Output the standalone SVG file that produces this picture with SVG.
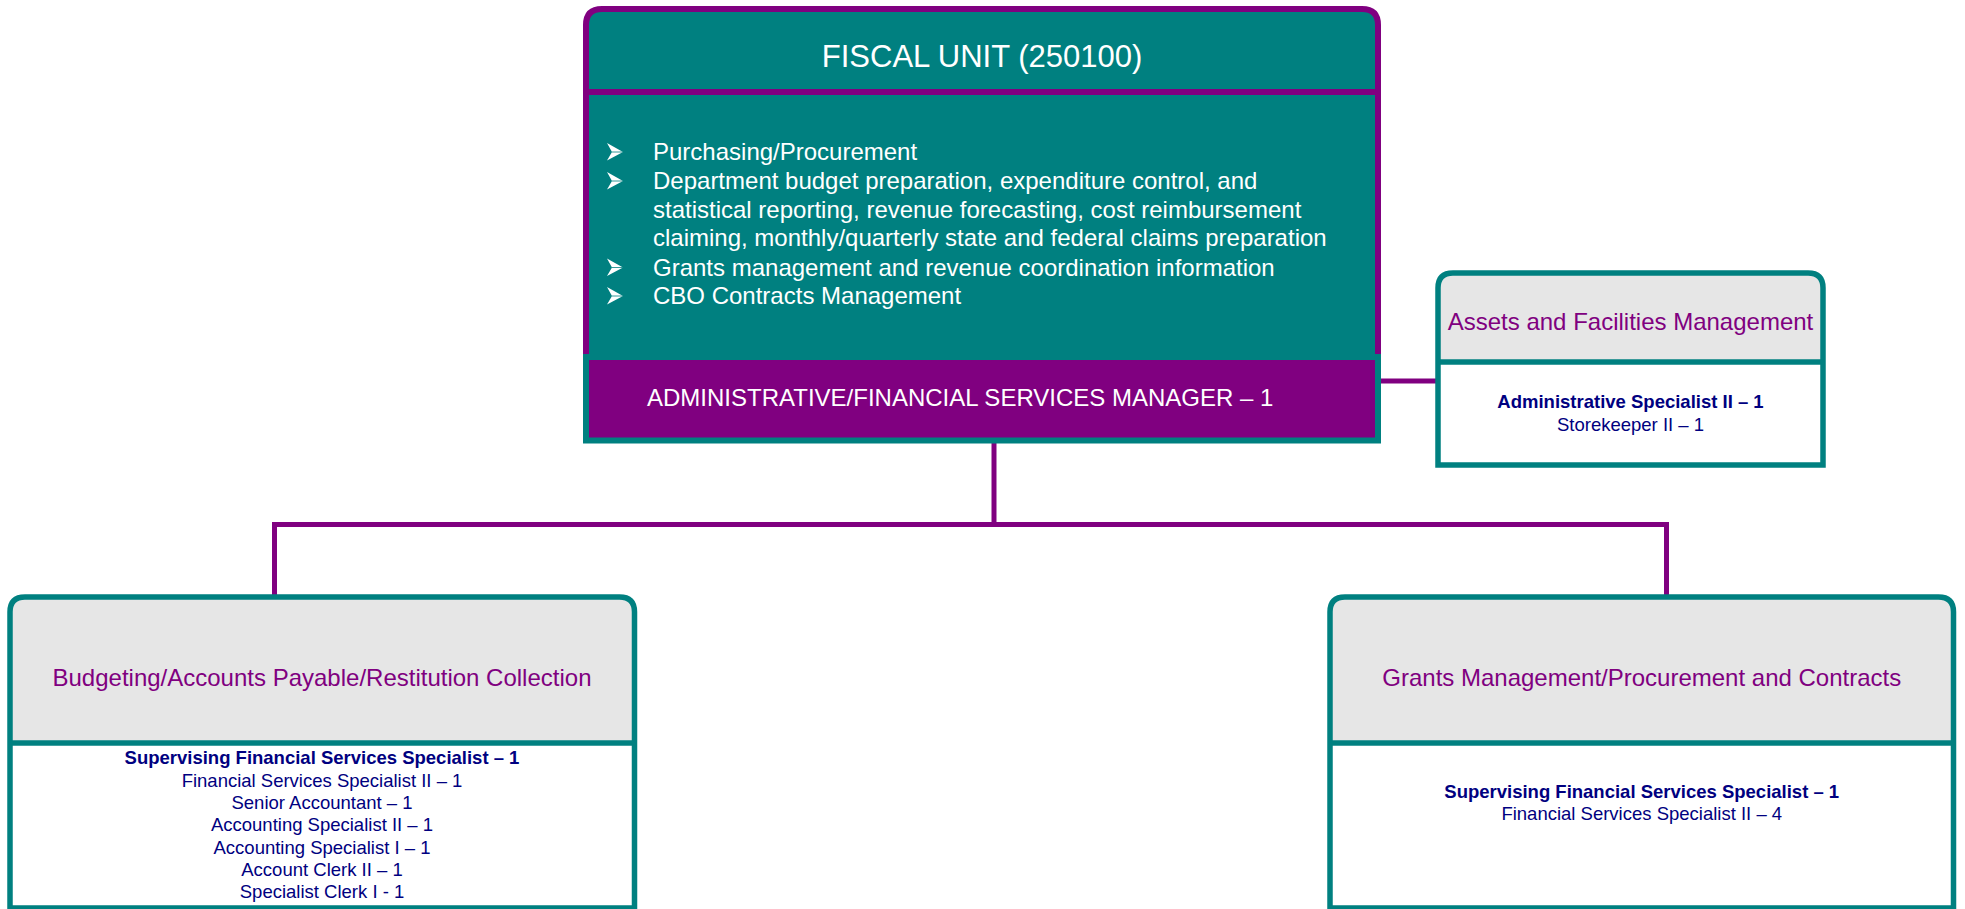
<svg xmlns="http://www.w3.org/2000/svg" width="1965" height="909" viewBox="0 0 1965 909">
<style>
  text { font-family: "Liberation Sans", Arial, sans-serif; }
  .title { font-size: 31px; fill: #FFFFFF; text-anchor: middle; }
  .bullet { font-size: 24px; fill: #FFFFFF; }
  .mgr { font-size: 24px; fill: #FFFFFF; }
  .subtitle { font-size: 24px; fill: #800080; text-anchor: middle; }
  .staff { font-size: 18.5px; fill: #000080; text-anchor: middle; }
  .staffb { font-size: 18.5px; fill: #000080; text-anchor: middle; font-weight: bold; }
  .hdr { fill: #E6E6E6; }
  .boxline { fill: none; stroke: #008080; stroke-width: 5.5; }
  .conn { fill: none; stroke: #800080; stroke-width: 5; }
</style>
<defs>
  <g id="arrowBullet">
    <path d="M0 0 L16 9 L0 17.5 L5 9 Z" fill="#FFFFFF"/>
    <path d="M5 9 L16 9" stroke="#008080" stroke-width="0.8"/>
  </g>
</defs>

<g id="connectors">
  <path class="conn" d="M994 443 V524.5"/>
  <path class="conn" d="M274.5 597 V524.5 H1666.5 V597"/>
  <path class="conn" d="M1381 381 H1438"/>
</g>

<g id="fiscal-unit">
  <path d="M586 357 V25 Q586 9 602 9 H1362 Q1378 9 1378 25 V357" fill="#008080" stroke="#800080" stroke-width="6"/>
  <line x1="586" y1="92" x2="1378" y2="92" stroke="#800080" stroke-width="6"/>
  <text class="title" x="982" y="67">FISCAL UNIT (250100)</text>
  <use href="#arrowBullet" x="607" y="143"/>
  <use href="#arrowBullet" x="607" y="172"/>
  <use href="#arrowBullet" x="607" y="258.5"/>
  <use href="#arrowBullet" x="607" y="287"/>
  <text class="bullet" x="653" y="160">Purchasing/Procurement</text>
  <text class="bullet" x="653" y="188.8">Department budget preparation, expenditure control, and</text>
  <text class="bullet" x="653" y="217.6">statistical reporting, revenue forecasting, cost reimbursement</text>
  <text class="bullet" x="653" y="246.4">claiming, monthly/quarterly state and federal claims preparation</text>
  <text class="bullet" x="653" y="275.5">Grants management and revenue coordination information</text>
  <text class="bullet" x="653" y="304">CBO Contracts Management</text>
</g>

<g id="manager">
  <rect x="586" y="357" width="792" height="83.5" fill="#800080" stroke="#008080" stroke-width="6"/>
  <text class="mgr" x="647" y="406">ADMINISTRATIVE/FINANCIAL SERVICES MANAGER – 1</text>
</g>

<g id="assets">
  <path class="hdr" d="M1438 362 V288 Q1438 273 1453 273 H1808 Q1823 273 1823 288 V362 Z"/>
  <rect x="1438" y="362" width="385" height="103" fill="#FFFFFF"/>
  <path class="boxline" d="M1438 465 V288 Q1438 273 1453 273 H1808 Q1823 273 1823 288 V465 Z"/>
  <line x1="1438" y1="362" x2="1823" y2="362" stroke="#008080" stroke-width="5.5"/>
  <text class="subtitle" x="1630.5" y="330">Assets and Facilities Management</text>
  <text class="staffb" x="1630.5" y="408">Administrative Specialist II – 1</text>
  <text class="staff" x="1630.5" y="431">Storekeeper II – 1</text>
</g>

<g id="budgeting">
  <path class="hdr" d="M10 743 V612 Q10 597 25 597 H619.5 Q634.5 597 634.5 612 V743 Z"/>
  <rect x="10" y="743" width="624.5" height="165" fill="#FFFFFF"/>
  <path class="boxline" d="M10 908 V612 Q10 597 25 597 H619.5 Q634.5 597 634.5 612 V908 Z"/>
  <line x1="10" y1="743" x2="634.5" y2="743" stroke="#008080" stroke-width="5.5"/>
  <text class="subtitle" x="322" y="686">Budgeting/Accounts Payable/Restitution Collection</text>
  <text class="staffb" x="322" y="764">Supervising Financial Services Specialist – 1</text>
  <text class="staff" x="322" y="786.5">Financial Services Specialist II – 1</text>
  <text class="staff" x="322" y="809">Senior Accountant – 1</text>
  <text class="staff" x="322" y="831">Accounting Specialist II – 1</text>
  <text class="staff" x="322" y="853.5">Accounting Specialist I – 1</text>
  <text class="staff" x="322" y="876">Account Clerk II – 1</text>
  <text class="staff" x="322" y="898">Specialist Clerk I - 1</text>
</g>

<g id="grants">
  <path class="hdr" d="M1330 743 V612 Q1330 597 1345 597 H1938.5 Q1953.5 597 1953.5 612 V743 Z"/>
  <rect x="1330" y="743" width="623.5" height="165" fill="#FFFFFF"/>
  <path class="boxline" d="M1330 908 V612 Q1330 597 1345 597 H1938.5 Q1953.5 597 1953.5 612 V908 Z"/>
  <line x1="1330" y1="743" x2="1953.5" y2="743" stroke="#008080" stroke-width="5.5"/>
  <text class="subtitle" x="1641.75" y="686">Grants Management/Procurement and Contracts</text>
  <text class="staffb" x="1641.75" y="797.5">Supervising Financial Services Specialist – 1</text>
  <text class="staff" x="1641.75" y="820">Financial Services Specialist II – 4</text>
</g>
</svg>
